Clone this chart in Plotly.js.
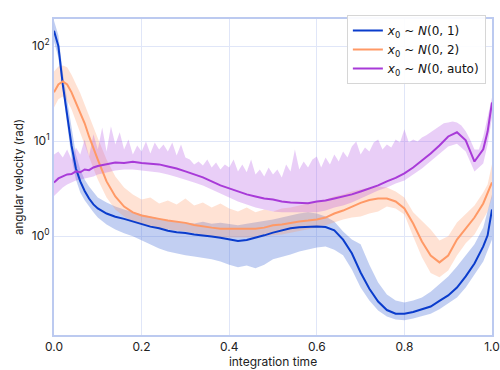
<!DOCTYPE html>
<html>
<head>
<meta charset="utf-8">
<script src="https://cdn.plot.ly/plotly-3.0.1.min.js"></script>
<style>html,body{margin:0;padding:0;background:#fff;}#chart{width:500px;height:370px;}</style>
</head>
<body>
<div id="chart"></div>
<script>
// integration time grid
const t = [0,0.01,0.02,0.03,0.04,0.05,0.06,0.07,0.08,0.09,0.10,
  0.12,0.14,0.16,0.18,0.20,0.22,0.24,0.26,0.28,0.30,
  0.32,0.34,0.36,0.38,0.40,0.42,0.44,0.46,0.48,0.50,
  0.52,0.54,0.56,0.58,0.60,0.62,0.64,0.66,0.68,0.70,
  0.72,0.74,0.76,0.78,0.80,0.82,0.84,0.86,0.88,0.90,
  0.92,0.94,0.96,0.98,0.99,1.00];

// x0 ~ N(0,1)
const blueMean = [145,100,39.5,19.6,9.0,5.15,3.77,2.99,2.49,2.16,1.96,
  1.73,1.60,1.52,1.43,1.33,1.26,1.21,1.14,1.10,1.08,
  1.04,1.02,0.99,0.96,0.93,0.89,0.91,0.96,1.02,1.09,
  1.15,1.21,1.24,1.26,1.26,1.25,1.15,0.92,0.66,0.415,
  0.28,0.205,0.167,0.153,0.153,0.159,0.17,0.182,0.208,0.238,
  0.288,0.377,0.516,0.78,1.02,1.91];
const blueUpper = [185,130,53,27.5,13.3,7.25,5.03,3.95,3.34,2.88,2.55,
  2.26,2.05,1.91,1.78,1.69,1.61,1.54,1.46,1.43,1.39,
  1.36,1.42,1.35,1.38,1.33,1.30,1.35,1.40,1.43,1.50,
  1.57,1.65,1.73,1.78,1.73,1.61,1.43,1.12,0.92,0.82,
  0.50,0.325,0.243,0.211,0.20,0.21,0.226,0.26,0.31,0.377,
  0.48,0.626,0.82,1.23,1.82,2.75];
const blueLower = [112,76,31,15,6.7,3.95,2.88,2.38,2.05,1.78,1.57,
  1.33,1.175,1.07,1.0,0.92,0.82,0.74,0.69,0.66,0.63,
  0.61,0.595,0.57,0.54,0.50,0.47,0.49,0.46,0.50,0.57,
  0.60,0.64,0.69,0.72,0.76,0.78,0.72,0.63,0.446,0.288,
  0.21,0.165,0.143,0.133,0.13,0.136,0.143,0.153,0.17,0.195,
  0.226,0.288,0.395,0.54,0.69,0.92];

// x0 ~ N(0,2)
const orangeMean = [32.6,39.5,42.5,39.5,32.6,25.5,20,15.4,11.2,8.4,6.4,
  3.77,2.62,2.05,1.78,1.65,1.57,1.52,1.46,1.43,1.38,
  1.31,1.26,1.23,1.20,1.20,1.20,1.20,1.20,1.23,1.30,
  1.33,1.39,1.43,1.46,1.50,1.57,1.73,1.86,2.05,2.24,
  2.40,2.49,2.49,2.32,1.96,1.36,0.88,0.626,0.53,0.626,
  0.92,1.2,1.57,2.21,2.82,3.67];
const orangeUpper = [54,61,62.6,60,50,40.5,31.8,24.3,18.2,13.9,10.7,
  6.4,4.25,3.25,2.75,2.43,2.55,2.21,2.37,2.16,2.49,
  2.1,2.26,2.0,2.21,1.96,1.82,2.0,1.78,1.91,1.82,
  1.96,2.0,2.1,2.21,2.32,2.43,2.62,2.75,2.95,3.1,
  3.25,3.33,3.25,2.95,2.55,1.78,1.43,1.175,0.9,1.0,
  1.39,1.69,2.1,2.88,3.5,5.7];
const orangeLower = [22.6,27.5,29.5,26.7,21.6,16.1,12.3,9.2,6.9,5.16,3.95,
  2.55,1.91,1.61,1.43,1.33,1.26,1.21,1.175,1.15,1.12,
  1.07,1.02,1.0,0.97,0.97,0.97,0.97,0.97,1.0,1.02,
  1.04,1.09,1.12,1.175,1.23,1.3,1.39,1.5,1.57,1.61,
  1.73,1.82,2.05,1.96,1.69,0.99,0.6,0.41,0.37,0.435,
  0.626,0.84,1.04,1.5,1.82,2.55];

// x0 ~ N(0,auto)
const purpleMean = [3.67,4.05,4.25,4.46,4.5,4.8,4.7,5.03,4.95,5.28,5.48,
  5.75,5.97,5.9,6.05,5.9,5.83,5.69,5.41,5.16,4.8,
  4.46,4.15,3.77,3.42,3.18,2.95,2.75,2.62,2.49,2.43,
  2.32,2.26,2.26,2.22,2.32,2.37,2.49,2.62,2.75,2.95,
  3.18,3.42,3.77,4.1,4.57,5.28,6.25,7.4,9.0,11.2,
  12.4,10.2,6.1,8.2,12.6,25.5];
const purpleLower = [2.65,2.95,3.25,3.5,3.67,3.86,3.95,4.05,4.15,4.25,4.46,
  4.68,4.92,5.03,5.03,4.92,4.8,4.68,4.46,4.2,3.95,
  3.67,3.42,3.1,2.82,2.55,2.32,2.16,2.0,1.91,1.82,
  1.78,1.78,1.78,1.78,1.78,1.86,2.0,2.1,2.26,2.49,
  2.75,3.03,3.25,3.58,3.86,4.46,5.16,6.1,7.4,8.8,
  9.4,7.8,4.8,5.8,9.2,17.7];
// upper edge of the N(0,auto) band, read at every 0.01
const tFine = [0,0.01,0.02,0.03,0.04,0.05,0.06,0.07,0.08,0.09,
  0.10,0.11,0.12,0.13,0.14,0.15,0.16,0.17,0.18,0.19,
  0.20,0.21,0.22,0.23,0.24,0.25,0.26,0.27,0.28,0.29,
  0.30,0.31,0.32,0.33,0.34,0.35,0.36,0.37,0.38,0.39,
  0.40,0.41,0.42,0.43,0.44,0.45,0.46,0.47,0.48,0.49,
  0.50,0.51,0.52,0.53,0.54,0.55,0.56,0.57,0.58,0.59,
  0.60,0.61,0.62,0.63,0.64,0.65,0.66,0.67,0.68,0.69,
  0.70,0.71,0.72,0.73,0.74,0.75,0.76,0.77,0.78,0.79,
  0.80,0.81,0.82,0.83,0.84,0.85,0.86,0.87,0.88,0.89,
  0.90,0.91,0.92,0.93,0.94,0.95,0.96,0.97,0.98,0.99,1.00];
const purpleUpper = [7.25,7.8,6.74,8.18,6.41,8.58,7.25,10.4,6.9,11.8,
  8.18,13.9,7.8,14.3,9.23,12.4,8.18,10.4,7.25,9.0,
  7.8,9.93,7.43,9.69,8.18,9.23,7.8,9.69,7.07,9.23,
  6.74,6.41,5.69,6.11,5.55,6.41,5.29,5.97,5.04,5.69,
  5.29,6.41,4.8,5.69,4.69,6.41,4.46,5.04,4.25,5.29,
  4.46,5.04,4.15,5.69,4.8,8.18,5.04,6.11,5.29,6.41,
  6.9,5.29,6.74,5.69,7.25,6.11,7.8,6.74,8.79,9.93,
  7.25,8.58,7.8,9.69,10.4,8.18,9.23,8.58,10.4,9.69,
  13.3,9.69,10.4,9.93,10.9,11.5,12.4,13.3,14.3,15.4,
  15.7,16.1,15.7,14.6,12.7,10.4,8.18,8.18,11.2,17.8,28.8];

const legendNames = [
  '<i>x</i><sub>0</sub> ~ <i>N</i>(0, 1)',
  '<i>x</i><sub>0</sub> ~ <i>N</i>(0, 2)',
  '<i>x</i><sub>0</sub> ~ <i>N</i>(0, auto)'
];
const yTickVals = [1, 10, 100];
const yTickText = ['10<sup>0</sup>', '10<sup>1</sup>', '10<sup>2</sup>'];
const xTickVals = [0, 0.2, 0.4, 0.6, 0.8, 1.0];
const xTickText = ['0.0', '0.2', '0.4', '0.6', '0.8', '1.0'];

function band(xu, up, xl, lo, color) {
  return {
    x: xu.concat(xl.slice().reverse()),
    y: up.concat(lo.slice().reverse()),
    type: 'scatter', mode: 'lines', fill: 'toself',
    fillcolor: color, line: {width: 0}, hoverinfo: 'skip', showlegend: false
  };
}
function line(y, color, name) {
  return {x: t, y: y, type: 'scatter', mode: 'lines', name: name,
    line: {color: color, width: 2}};
}

const data = [
  band(t, blueUpper, t, blueLower, 'rgba(70,110,215,0.33)'),
  band(t, orangeUpper, t, orangeLower, 'rgba(255,150,100,0.28)'),
  band(tFine, purpleUpper, t, purpleLower, 'rgba(175,80,225,0.28)'),
  line(blueMean, '#0a3ccc', legendNames[0]),
  line(orangeMean, '#ff9966', legendNames[1]),
  line(purpleMean, '#a83ad8', legendNames[2])
];

const axisCommon = {
  showline: true, mirror: true, linecolor: '#bccaf0', linewidth: 2,
  showgrid: true, gridcolor: '#e0e6f8', gridwidth: 1,
  zeroline: false, ticks: '',
  tickfont: {family: 'Inter, "DejaVu Sans", sans-serif', size: 12, color: '#222'}
};

const layout = {
  width: 500, height: 370,
  margin: {l: 54, r: 8, t: 19, b: 35},
  paper_bgcolor: '#fff', plot_bgcolor: '#fff',
  font: {family: 'Inter, "DejaVu Sans", sans-serif', color: '#222'},
  xaxis: Object.assign({}, axisCommon, {
    range: [0, 1], tickvals: xTickVals, ticktext: xTickText,
    title: {text: 'integration time', font: {size: 12}, standoff: 2}
  }),
  yaxis: Object.assign({}, axisCommon, {
    type: 'log', range: [-1.04, 2.285], tickvals: yTickVals, ticktext: yTickText,
    title: {text: 'angular velocity (rad)', font: {size: 11.5}, standoff: 6}
  }),
  legend: {
    x: 0.986, y: 1.013, xanchor: 'right', yanchor: 'top',
    bgcolor: 'rgba(255,255,255,0.9)', bordercolor: '#d6d6d6', borderwidth: 1,
    font: {family: '"DejaVu Sans", sans-serif', size: 12, color: '#111'},
    tracegroupgap: 0
  },
  showlegend: true
};

Plotly.newPlot('chart', data, layout, {displayModeBar: false, staticPlot: true});
</script>
</body>
</html>
